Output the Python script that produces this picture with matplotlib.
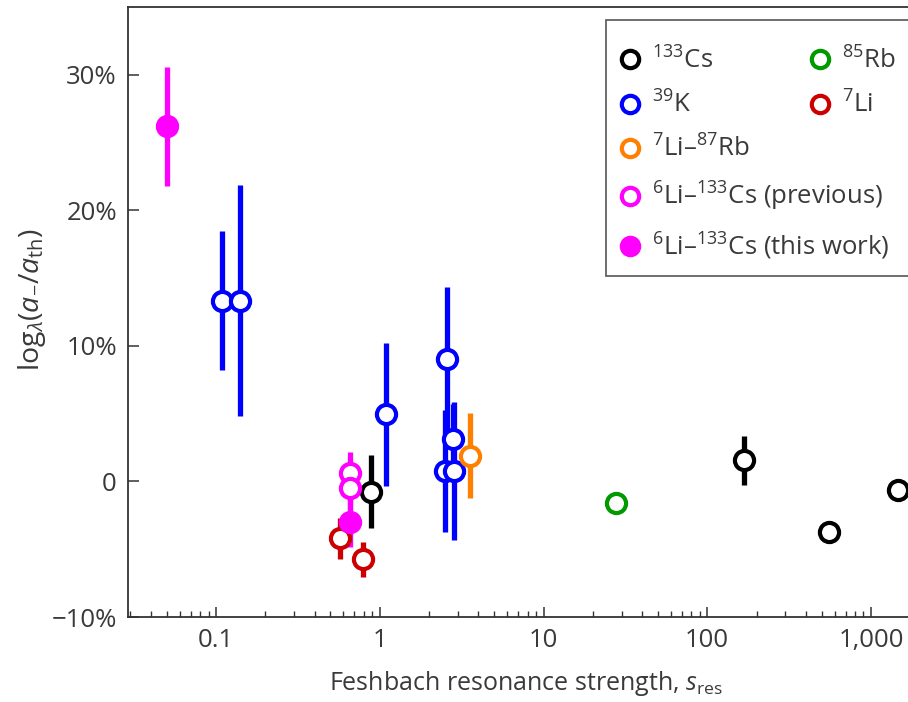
import matplotlib
matplotlib.use("Agg")
import matplotlib.pyplot as plt
from matplotlib.lines import Line2D
from matplotlib.patches import Rectangle

plt.rcParams["font.family"] = ["Open Sans", "DejaVu Sans"]
plt.rcParams["mathtext.fontset"] = "custom"
plt.rcParams["mathtext.rm"] = "Open Sans"
plt.rcParams["mathtext.it"] = "Open Sans:italic"
plt.rcParams["mathtext.sf"] = "Open Sans"

TEXT = "#3a3a3a"

# resonance strength s_res, deviation (%), uncertainty (%)
cs_s = [0.89, 168, 555, 1460]
cs_y = [-0.75, 1.55, -3.75, -0.6]
cs_e = [2.7, 1.8, 0.8, 0.0]

k_s = [0.109, 0.140, 1.09, 2.56, 2.49, 2.79, 2.82]
k_y = [13.35, 13.35, 4.95, 9.05, 0.75, 3.1, 0.75]
k_e = [5.1, 8.5, 5.3, 5.3, 4.5, 2.6, 5.1]

lirb_s = [3.54]
lirb_y = [1.9]
lirb_e = [3.15]

rb_s = [27.9]
rb_y = [-1.55]
rb_e = [0.0]

li_s = [0.57, 0.787]
li_y = [-4.2, -5.75]
li_e = [1.5, 1.3]

lics_prev_s = [0.656, 0.656]
lics_prev_y = [0.65, -0.5]
lics_prev_e = [1.5, 1.5]

lics_new_s = [0.05, 0.656]
lics_new_y = [26.2, -3.0]
lics_new_e = [4.4, 1.8]

fig = plt.figure(figsize=(9.08, 7.02), dpi=100)
ax = fig.add_axes([0.141, 0.121, 0.859, 0.869])

ms, mew, elw = 13.8, 3.0, 3.8


def draw(s, y, e, color, filled=False):
    ax.errorbar(s, y, yerr=e, fmt="o", color=color, ecolor=color,
                mfc=color if filled else "white", mec=color,
                ms=ms, mew=mew, elinewidth=elw, capsize=0, zorder=3)


draw(k_s, k_y, k_e, "#0000ff")
draw(cs_s, cs_y, cs_e, "black")
draw(lirb_s, lirb_y, lirb_e, "#ff8000")
draw(rb_s, rb_y, rb_e, "#009900")
draw(li_s, li_y, li_e, "#cc0000")
draw(lics_prev_s, lics_prev_y, lics_prev_e, "#ff00ff")
draw(lics_new_s, lics_new_y, lics_new_e, "#ff00ff", filled=True)

ax.set_xscale("log")
ax.set_xlim(0.029, 1683)
ax.set_ylim(-10, 35)

ax.set_xticks([0.1, 1, 10, 100, 1000], ["0.1", "1", "10", "100", "1,000"])
ax.set_yticks([-10, 0, 10, 20, 30], ["\u221210%", "0", "10%", "20%", "30%"])
ax.tick_params(axis="both", which="both", direction="in", colors="#333333",
               labelcolor=TEXT, labelsize=18.5)
ax.tick_params(axis="y", which="major", length=8, width=1.1, pad=8)
ax.tick_params(axis="x", which="major", length=7, width=1.1, pad=8)
ax.tick_params(axis="x", which="minor", length=4, width=1.0)
ax.tick_params(top=False, right=False, which="both")

for side in ("left", "bottom", "top"):
    ax.spines[side].set_color("#333333")
    ax.spines[side].set_linewidth(1.3)
ax.spines["right"].set_visible(False)

ax.set_xlabel(r"Feshbach resonance strength, $s_{\mathrm{res}}$",
              fontsize=18, color=TEXT)
ax.xaxis.set_label_coords(0.51, -0.085)
ax.set_ylabel(r"$\mathrm{log}_{\lambda}(a_{-}/a_{\mathrm{th}})$",
              fontsize=20.5, color=TEXT)
ax.yaxis.set_label_coords(-0.103, 0.52)


def handle(color, filled=False):
    return Line2D([], [], ls="none", marker="o", color=color,
                  mfc=color if filled else "white", mec=color, ms=12.5, mew=3.0)


left_items = [
    (handle("black"), "$^{133}$Cs"),
    (handle("#0000ff"), "$^{39}$K"),
    (handle("#ff8000"), "$^{7}$Li\u2013$^{87}$Rb"),
    (handle("#ff00ff"), "$^{6}$Li\u2013$^{133}$Cs (previous)"),
    (handle("#ff00ff", True), "$^{6}$Li\u2013$^{133}$Cs (this work)"),
]
right_items = [
    (handle("#009900"), "$^{85}$Rb"),
    (handle("#cc0000"), "$^{7}$Li"),
]

# legend box runs past the right edge of the figure
frame = Rectangle((0.667, 1 - 276 / 702), 0.36, (276 - 20) / 702,
                  transform=fig.transFigure, facecolor="white",
                  edgecolor="#555555", linewidth=1.2, clip_on=False,
                  zorder=4.5)
ax.add_patch(frame)

leg_kw = dict(loc="upper left", bbox_transform=fig.transFigure, fontsize=18.5,
              labelspacing=0.67, handlelength=0.8, handletextpad=0.45,
              borderpad=0, borderaxespad=0, labelcolor=TEXT, frameon=False)

leg1 = ax.legend([h for h, _ in left_items], [l for _, l in left_items],
                 bbox_to_anchor=(0.683, 0.933), **leg_kw)
ax.add_artist(leg1)

leg2 = ax.legend([h for h, _ in right_items], [l for _, l in right_items],
                 bbox_to_anchor=(0.892, 0.933), **leg_kw)

fig.savefig("out.png", dpi=100)
